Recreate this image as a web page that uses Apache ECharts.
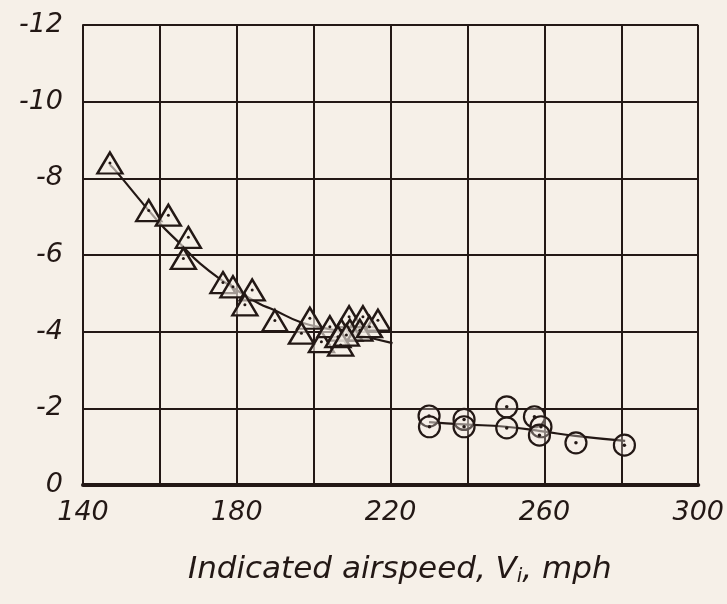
<!DOCTYPE html>
<html><head><meta charset="utf-8">
<script src="https://cdn.jsdelivr.net/npm/echarts@6/dist/echarts.min.js"></script>
<style>html,body{margin:0;padding:0;background:#f6f0e8}#c{width:727px;height:604px}</style>
</head><body><div id="c"></div>
<script>
// Triangle data (low-speed configuration)
const triX = [147, 157.1, 162.2, 167.4, 166.1, 176.4, 179.0, 184.0, 182.1, 189.9, 199.0, 196.8, 202.0, 204.2, 207.0, 209.2, 212.8, 216.7, 207.2, 209.4, 212.0, 214.5, 206.3, 208.5];
const triY = [-8.4, -7.16, -7.04, -6.46, -5.91, -5.28, -5.17, -5.09, -4.70, -4.29, -4.35, -3.96, -3.74, -4.13, -3.65, -4.39, -4.39, -4.30, -4.04, -4.04, -4.04, -4.13, -3.87, -3.91];
// Fair curve through triangles
const triCurveX = [147, 148.3, 159.6, 165.6, 170.4, 177.3, 182, 186, 189.4, 196.8, 205, 212, 220.5];
const triCurveY = [-8.35, -8.22, -6.87, -6.26, -5.78, -5.26, -4.96, -4.72, -4.58, -4.24, -4.05, -3.9, -3.70];
// Circle data (high-speed)
const cirX = [230, 230.1, 239.1, 239.1, 250.2, 250.2, 257.4, 259.1, 258.7, 268.2, 280.8];
const cirY = [-1.80, -1.52, -1.71, -1.52, -2.04, -1.49, -1.78, -1.52, -1.30, -1.10, -1.04];
const cirCurveX = [230, 239, 250, 259.5, 268, 281];
const cirCurveY = [-1.64, -1.58, -1.52, -1.40, -1.28, -1.15];
const xTicks = [140, 180, 220, 260, 300];
const yTicks = [-12, -10, -8, -6, -4, -2, 0];

const ink = '#231815';
const bg = '#f6f0e8';
const zip = (a, b) => a.map((v, i) => [v, b[i]]);
const font = '"DejaVu Sans", sans-serif';

const chart = echarts.init(document.getElementById('c'));
chart.setOption({
  backgroundColor: bg,
  animation: false,
  grid: {left: 83, top: 25, right: 28, bottom: 119, containLabel: false},
  xAxis: {
    type: 'value', min: 140, max: 300, interval: 20,
    axisLine: {show: true, lineStyle: {color: ink, width: 4}},
    axisTick: {show: false},
    splitLine: {show: true, lineStyle: {color: ink, width: 2}},
    axisLabel: {
      color: ink, fontSize: 27, fontStyle: 'italic', fontFamily: font, margin: 14,
      formatter: v => xTicks.includes(v) ? String(v) : ''
    }
  },
  yAxis: {
    type: 'value', min: -12, max: 0, interval: 2, inverse: true,
    axisLine: {show: true, lineStyle: {color: ink, width: 2}},
    axisTick: {show: false},
    splitLine: {show: true, lineStyle: {color: ink, width: 2}},
    axisLabel: {
      color: ink, fontSize: 27, fontStyle: 'italic', fontFamily: font, margin: 20,
      formatter: v => yTicks.includes(v) ? (v === 0 ? '0' : '-' + Math.abs(v)) : ''
    }
  },
  title: {
    text: 'Indicated airspeed, V{sub|i}, mph',
    left: 183, top: 548,
    textStyle: {
      color: ink, fontSize: 31, fontStyle: 'italic', fontWeight: 'normal', fontFamily: font,
      rich: {sub: {fontSize: 20, fontStyle: 'italic', fontFamily: font, color: ink, verticalAlign: 'bottom', padding: [14, 0, 0, 0]}}
    }
  },
  series: [
    {type: 'line', data: zip(triCurveX, triCurveY), smooth: true, symbol: 'none',
     lineStyle: {color: ink, width: 2.2}, z: 2},
    {type: 'line', data: zip(cirCurveX, cirCurveY), smooth: true, symbol: 'none',
     lineStyle: {color: ink, width: 2.2}, z: 2},
    {type: 'scatter', data: zip(triX, triY), symbol: 'triangle', symbolSize: [25, 21],
     itemStyle: {color: 'rgba(246,240,232,0.6)', borderColor: ink, borderWidth: 2.4, opacity: 1}, z: 3},
    {type: 'scatter', data: zip(triX, triY), symbol: 'circle', symbolSize: 3,
     itemStyle: {color: ink, opacity: 1}, z: 4},
    {type: 'scatter', data: zip(cirX, cirY), symbol: 'circle', symbolSize: 21,
     itemStyle: {color: 'rgba(246,240,232,0.3)', borderColor: ink, borderWidth: 2.2, opacity: 1}, z: 3},
    {type: 'scatter', data: zip(cirX, cirY), symbol: 'circle', symbolSize: 3.5,
     itemStyle: {color: ink, opacity: 1}, z: 4}
  ]
});
</script></body></html>
